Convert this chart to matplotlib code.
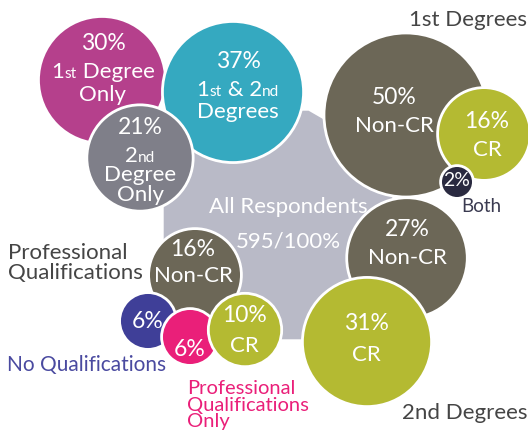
import numpy as np
import matplotlib.pyplot as plt
from matplotlib.patches import Circle, RegularPolygon
from matplotlib.offsetbox import TextArea, HPacker, AnnotationBbox

# --- data ---
groups = ['All Respondents', '1st Degree Only', '1st & 2nd Degrees', '2nd Degree Only',
          '1st Non-CR', '1st CR', '1st Both',
          '2nd Non-CR', '2nd CR',
          'Prof Non-CR', 'No Qualifications', 'Prof Only', 'Prof CR']
pcts = [100, 30, 37, 21, 50, 16, 2, 27, 31, 16, 6, 6, 10]
respondents = 595

# --- layout (pixel coords, y down) ---
centers = [(278, 225), (102, 80), (233, 92), (140, 158),
           (406, 115), (484, 134), (457, 182),
           (407, 258), (367, 342),
           (195, 275), (148, 321), (190, 337), (245, 330)]
colors = ['#b9bac7', '#b5408c', '#35a9c0', '#7f7f89',
          '#6c6757', '#b4ba32', '#2a2a40',
          '#6c6757', '#b4ba32',
          '#6c6757', '#3f3f98', '#ea1f79', '#b4ba32']
K = 11.6  # px radius per sqrt(percent)

plt.rcParams['font.family'] = ['Lato', 'DejaVu Sans']

fig = plt.figure(figsize=(5.28, 4.34), dpi=100)
ax = fig.add_axes([0, 0, 1, 1])
ax.set_xlim(0, 528)
ax.set_ylim(434, 0)
ax.axis('off')

for i, (c, p, col) in enumerate(zip(centers, pcts, colors)):
    r = K * np.sqrt(p)
    if i == 0:
        patch = RegularPolygon(c, numVertices=12, radius=r * 1.02, orientation=np.pi / 12,
                               facecolor=col, edgecolor='none', zorder=1)
    else:
        patch = Circle(c, r, facecolor=col, edgecolor='white', linewidth=2, zorder=i + 1)
    ax.add_patch(patch)


def rich(x, y, parts, size=16, color='white', z=50):
    # parts: list of (text, small?)
    boxes = [TextArea(t, textprops=dict(color=color, fontsize=size * (0.7 if s else 1),
                                        family='Lato'))
             for t, s in parts]
    pack = HPacker(children=boxes, align='baseline', pad=0, sep=0)
    ab = AnnotationBbox(pack, (x, y), frameon=False, box_alignment=(0.5, 0.5), pad=0,
                        zorder=z)
    ax.add_artist(ab)


def txt(x, y, s, size=16, color='white', **kw):
    ax.text(x, y, s, fontsize=size, color=color, ha='center', va='center', zorder=50, **kw)


# inside labels
txt(103, 43, f'{pcts[1]}%', 16.5)
rich(103, 72, [('1', False), ('st', True), (' Degree', False)])
txt(103, 95, 'Only')

txt(238, 62, f'{pcts[2]}%', 16.5)
rich(238, 90, [('1', False), ('st', True), (' & 2', False), ('nd', True)])
txt(238, 112, 'Degrees')

txt(140, 127, f'{pcts[3]}%', 16.5)
rich(140, 156, [('2', False), ('nd', True)])
txt(140, 175, 'Degree')
txt(140, 195, 'Only')

txt(394, 97, f'{pcts[4]}%', 16.5)
txt(394, 126, 'Non-CR')
txt(487, 121, f'{pcts[5]}%', 16.5)
txt(487, 150, 'CR')
txt(457, 181, f'{pcts[6]}%', 14)

txt(288, 207, groups[0])
txt(288, 242, f'{respondents}/{pcts[0]}%')

txt(407, 230, f'{pcts[7]}%', 16.5)
txt(407, 258, 'Non-CR')
txt(366, 323, f'{pcts[8]}%', 16.5)
txt(366, 355, 'CR')

txt(193, 250, f'{pcts[9]}%', 16.5)
txt(193, 276, 'Non-CR')
txt(148, 322, f'{pcts[10]}%', 16.5)
txt(190, 349, f'{pcts[11]}%', 16.5)
txt(244, 316, f'{pcts[12]}%', 16.5)
txt(244, 346, 'CR')

# outer labels
dark = '#454545'
ax.text(527, 20, '1st Degrees', fontsize=16, color=dark, ha='right', va='center')
ax.text(461, 207, 'Both', fontsize=13.5, color='#3a3a50', ha='left', va='center')
ax.text(8, 263, 'Professional\nQualifications', fontsize=16, color=dark, ha='left',
        va='center', linespacing=0.95)
ax.text(7, 365, 'No Qualifications', fontsize=15, color='#4a4aa0', ha='left', va='center')
ax.text(187, 405, 'Professional\nQualifications\nOnly', fontsize=14.5, color='#ea1f79',
        ha='left', va='center', linespacing=0.95)
ax.text(527, 413, '2nd Degrees', fontsize=16, color=dark, ha='right', va='center')

fig.savefig('out.png', dpi=100)
